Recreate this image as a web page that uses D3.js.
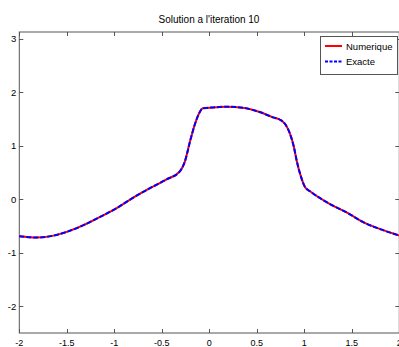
<!DOCTYPE html>
<html><head><meta charset="utf-8">
<script src="https://cdn.jsdelivr.net/npm/d3@7"></script>
<style>body{margin:0;background:#fff}svg{display:block}</style>
</head><body>
<script>
const title = "Solution a l'iteration 10";
const xValues = [-2.0,-1.82,-1.64,-1.5,-1.33,-1.15,-0.97,-0.8,-0.62,-0.45,-0.31,-0.26,-0.2,-0.15,-0.1,-0.07,0.08,0.18,0.35,0.53,0.67,0.74,0.80,0.85,0.89,0.92,0.96,1.01,1.06,1.27,1.45,1.62,1.8,2.0];
const numerique = [-0.69,-0.716,-0.68,-0.61,-0.49,-0.33,-0.16,0.03,0.21,0.37,0.52,0.69,1.1,1.41,1.63,1.7,1.72,1.73,1.71,1.63,1.53,1.49,1.40,1.22,0.98,0.72,0.45,0.22,0.15,-0.09,-0.25,-0.43,-0.56,-0.68];
const exacte = numerique.slice();
const xTicks = [-2,-1.5,-1,-0.5,0,0.5,1,1.5,2];
const yTicks = [-2,-1,0,1,2,3];
const legendLabels = ["Numerique","Exacte"];

const W=399,H=347;
const L=19.3,R=399.3,T=32,B=333;
const svg=d3.select("body").append("svg").attr("width",W).attr("height",H)
  .style("font-family","'Liberation Sans',Arial,sans-serif");
const x=d3.scaleLinear().domain([-2,2]).range([L,R]);
const y=d3.scaleLinear().domain([-2.5,3.125]).range([B,T]);
const axisColor="#555";

svg.append("text").attr("x",209).attr("y",23).attr("text-anchor","middle")
  .attr("font-size",10).attr("fill","#000").text(title);

const g=svg.append("g");
g.append("rect").attr("x",L).attr("y",T).attr("width",R-L).attr("height",B-T)
  .attr("fill","none").attr("stroke",axisColor).attr("stroke-width",1);
const tl=4;
xTicks.forEach(v=>{
  const px=Math.round(x(v))+0.5;
  g.append("line").attr("x1",px).attr("x2",px).attr("y1",B).attr("y2",B-tl).attr("stroke",axisColor);
  g.append("line").attr("x1",px).attr("x2",px).attr("y1",T).attr("y2",T+tl).attr("stroke",axisColor);
  g.append("text").attr("x",x(v)).attr("y",345.5).attr("text-anchor","middle").attr("font-size",9).attr("fill","#000").text(v);
});
yTicks.forEach(v=>{
  const py=Math.round(y(v))+0.5;
  g.append("line").attr("x1",L).attr("x2",L+tl).attr("y1",py).attr("y2",py).attr("stroke",axisColor);
  g.append("line").attr("x1",R).attr("x2",R-tl).attr("y1",py).attr("y2",py).attr("stroke",axisColor);
  g.append("text").attr("x",L-3).attr("y",y(v)+3.5).attr("text-anchor","end").attr("font-size",9.5).attr("fill","#000").text(v);
});

const line=d3.line().x((d,i)=>x(xValues[i])).y(d=>y(d)).curve(d3.curveMonotoneX);
g.append("path").attr("d",line(numerique)).attr("fill","none").attr("stroke","#ff0000").attr("stroke-width",2);
g.append("path").attr("d",line(exacte)).attr("fill","none").attr("stroke","#0000ff").attr("stroke-width",2).attr("stroke-dasharray","5,2");

const lg=svg.append("g");
lg.append("rect").attr("x",320.5).attr("y",36.5).attr("width",77).attr("height",38)
  .attr("fill","#fff").attr("stroke",axisColor);
const colors=["#ff0000","#0000ff"], dashes=[null,"3,1.5"];
legendLabels.forEach((t,i)=>{
  const yy=46+i*15.5;
  lg.append("line").attr("x1",325).attr("x2",342).attr("y1",yy).attr("y2",yy)
    .attr("stroke",colors[i]).attr("stroke-width",2).attr("stroke-dasharray",dashes[i]);
  lg.append("text").attr("x",346).attr("y",yy+3.5).attr("font-size",9.5).attr("fill","#000").text(t);
});
</script>
</body></html>
